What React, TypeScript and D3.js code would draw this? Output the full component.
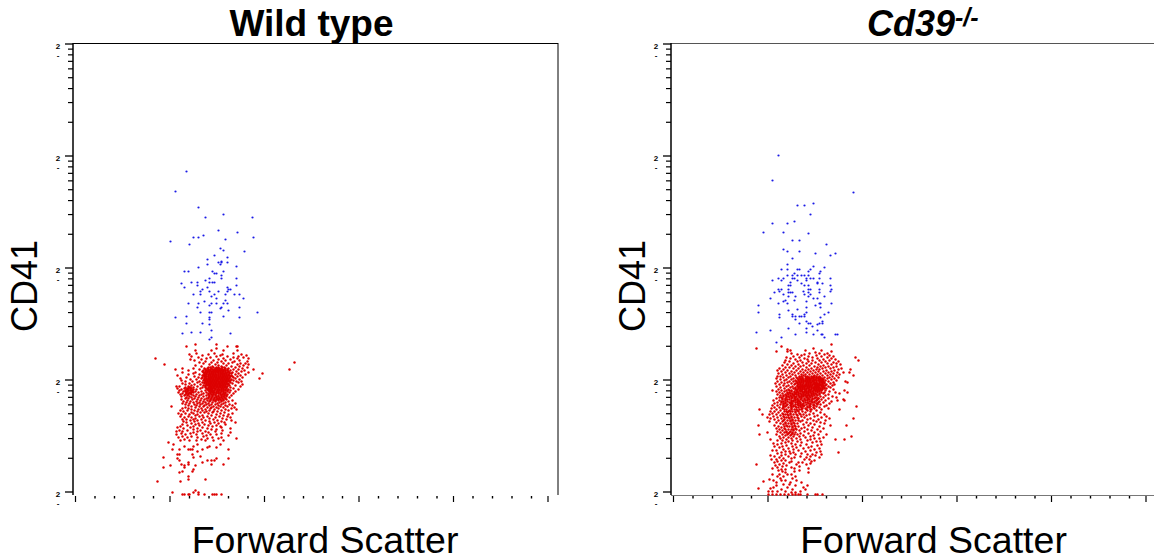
import * as d3 from "d3";

// x = forward scatter channel, y = CD41 channel, rows are [y, ...x]
const wtBlue = [
  [111,323],[100,303],[123,287],[148,280],[130,277],[177,277],[143,264],[162,262],[128,259],[118,257],[123,257],[150,255],[178,257],[95,253],[114,250],
  [145,246],[148,244],[169,243],[139,239],[152,237],[132,235],[146,233],[146,232],[143,232],[152,232],[132,230],[145,230],[161,228],[123,227],[109,223],[113,223],
  [137,223],[148,223],[139,221],[141,221],[146,219],[134,216],[146,216],[161,216],[130,214],[116,212],[122,212],[134,212],[137,212],[139,212],[106,211],[122,209],
  [161,209],[109,207],[132,207],[152,207],[127,205],[153,205],[155,205],[125,203],[134,203],[143,203],[152,203],[118,200],[125,200],[139,200],[150,200],[159,200],
  [164,200],[136,198],[141,196],[168,196],[150,194],[129,193],[113,191],[123,191],[136,191],[141,191],[148,191],[152,191],[134,189],[122,187],[146,187],[164,187],
  [145,186],[153,184],[125,182],[134,182],[136,182],[182,182],[111,178],[148,178],[100,177],[134,177],[164,177],[134,175],[111,171],[127,171],[134,170],[136,164],
  [116,162],[125,162],[107,161],[155,161],[136,157],[134,155],
];

const koBlue = [
  [105,339],[99,314],[180,302],[124,289],[131,289],[140,291],[137,280],[99,271],[114,271],[121,273],[90,262],[110,262],[135,261],[119,254],[126,254],[153,250],
  [110,245],[114,243],[126,243],[142,241],[162,241],[157,239],[119,236],[114,230],[140,228],[151,227],[108,225],[114,225],[124,225],[126,225],[137,225],[147,223],
  [135,223],[146,221],[121,221],[114,219],[119,219],[124,219],[128,219],[131,219],[135,219],[105,216],[110,216],[119,216],[121,216],[133,216],[137,216],[140,216],
  [146,216],[157,216],[99,214],[108,214],[124,214],[133,214],[117,212],[144,212],[128,211],[135,209],[149,211],[144,211],[115,209],[117,209],[131,209],[157,209],
  [115,205],[135,205],[137,205],[146,205],[158,205],[105,205],[108,205],[106,203],[130,203],[157,203],[101,202],[115,202],[117,202],[119,202],[135,202],[146,202],
  [110,200],[131,200],[137,200],[115,198],[122,198],[135,198],[151,198],[97,196],[121,194],[140,196],[144,196],[112,194],[133,193],[105,191],[110,193],[114,191],
  [146,191],[147,191],[158,191],[85,189],[133,187],[142,189],[147,187],[124,185],[115,184],[85,182],[133,182],[131,180],[155,182],[151,180],[106,180],[119,180],
  [119,178],[106,177],[122,178],[126,178],[128,178],[131,178],[147,177],[122,175],[133,173],[149,173],[149,171],[126,171],[135,171],[137,171],[146,171],[144,170],
  [139,168],[133,166],[115,166],[97,164],[144,164],[83,162],[133,162],[122,160],[140,160],[148,160],[149,160],[162,160],[164,160],[108,157],[151,157],[103,152],
];

const wtRedLoose = [
  [111,148],[120,150],[120,144],[141,150],[141,146],[152,148],[161,148],[162,148],[136,144],[148,144],[162,144],[80,136],[89,130],[219,132],[214,125],[187,121],
  [184,116],[178,125],[93,52],[98,50],[97,45],[104,45],[109,48],[113,45],[115,45],[117,45],[118,48],[122,50],[127,45],[132,47],[141,47],[153,45],[122,43],[134,48],
  [145,50],[102,40],[104,40],[117,40],[125,38],[88,37],[118,37],[132,34],[136,34],[141,36],[139,34],[153,36],[102,36],[104,34],[113,32],[127,32],[136,30],[148,30],
  [106,30],[109,29],[109,27],[95,29],[88,27],[120,29],[113,30],[118,25],[117,23],[107,23],[104,22],[113,18],[113,15],[130,15],[82,13],[105,13],[97,2],[120,4],
  [107,0],[109,0],[113,0],[114,0],[118,2],[123,2],[123,0],[129,0],[137,0],[139,0],[141,0],[146,0],
];

const wtRedRows = [
  [141,121,139,158],[140,114,133,147,166],[139,127,145,171],[138,116,141,152,163],[137,123,135,158,168],[136,131,148,162,173],
  [135,115,126,143,155],[134,119,138,150,164],[133,130,146,159,172],[132,124,136,142,157],[131,128,148,153,165,170],[130,134,140,162,173],
  [129,120,143,151,168],[128,126,137,146,156,164],[127,133,141,149,160,172],[126,107,118,129,144,153,167],[125,100,124,135,139,147,158,163],
  [124,113,131,142,150,155,169],[123,127,134,137,145,148,161,166],[122,107,120,132,140,143,152,157,173],[121,118,129,136,146,149,154,163],
  [120,113,124,133,138,141,147,151,160,170],[119,102,127,130,135,143,145,153,156,165],[118,119,131,137,139,148,150,155,162],
  [117,111,123,133,136,141,144,152,158,167],[116,105,126,129,134,138,146,149,154,160],[115,115,121,131,135,140,143,147,151,156,164],
  [114,106,128,132,137,142,145,150,153,158],[113,110,117,124,130,134,139,144,148,152,161,166],[112,122,127,133,136,141,146,149,155,163],
  [111,107,114,129,131,138,143,147,151,157],[110,110,119,125,134,137,140,145,150,153,167],[109,116,128,132,135,139,142,148,154,160],
  [108,101,104,113,122,130,136,141,144,147,152,165],[107,110,114,118,127,133,138,143,149,155],[106,102,109,112,116,125,131,135,140,146,151,158],
  [105,106,111,115,121,134,137,142,148,153,163],[104,104,110,113,117,130,133,139,144,150,155],[103,108,112,116,120,126,136,141,146,152,160],
  [102,103,111,114,118,123,131,135,143,148,154],[101,107,113,115,128,133,138,145,150,158],[100,105,110,116,121,126,136,140,147,152],
  [99,109,112,118,124,131,134,143,149,156],[98,106,114,120,128,137,141,146,151],[97,111,116,123,133,139,144,149,154],
  [96,110,113,119,126,131,136,142,147],[95,106,117,122,129,135,141,145,151],[94,112,125,132,138,143,148,157],[93,108,115,121,128,134,140,146,153],
  [92,111,118,124,130,137,144,150],[91,107,114,122,127,133,142,148,160],[90,110,119,125,131,136,140,146,154],[89,113,121,129,134,143,150,157],
  [88,96,116,124,128,138,145,152],[87,110,120,132,136,141,148,159],[86,107,113,126,135,143,156],[85,116,123,130,139,150,161],
  [84,105,112,119,127,134,146,153],[83,108,122,131,138,142],[82,116,125,129,137,149],[81,103,110,118,133,145,157],[80,106,114,122,141,153],
  [79,120,127,136,148],[78,105,113,124,132,144,152],[77,109,116,128,140,155],[76,120,134,147],[75,107,111,118,126,138,151],[74,115,122,130,142,156],
  [73,108,119,134,146],[72,111,127,139,149,160],[71,116,123,135,143],[70,107,120,129,150],[69,112,124,133,141],[68,105,118,137,145],
  [67,102,115,127,146],[66,108,122,132,155],[65,118,136,141],[64,104,112,125,147],[63,101,107,122,130,140],[62,118,133,155],[61,106,115,127,146],
  [60,101,110,121,135,141],[59,131,153],[58,107,116,128],[57,103,112,122,137,146],[56,132,143,161],[55,109,126],[54,105,114,121,130,138,148],
];

// the solid part of the wild type cloud
const wtRedCore = [
  [127,135,138,143,147],[126,132,136,140,142,146,150],[125,130,133,137,141,143,145,149,152],[124,128,133,135,138,140,144,146,148,152],
  [123,130,132,136,139,141,143,147,150,153],[122,128,130,134,136,138,142,145,147,150,154],[121,131,134,138,140,143,145,148,151,156],
  [120,129,131,135,137,140,143,145,149,153],[119,128,133,137,139,141,147,149,151,154],[118,129,133,135,141,143,145,147,152,157],
  [117,127,130,135,138,140,143,146,148,150,154],[116,131,133,136,140,142,144,147,151,152],[115,129,133,137,138,142,145,149,153],
  [114,130,134,135,139,141,147,148,151,155],[113,132,136,137,141,143,146,150,154],[112,129,131,135,138,140,143,144,147,151],
  [111,133,135,136,140,141,145,149,153],[110,131,133,135,139,142,144,147,148,152],[109,130,134,137,140,144,146,150],[108,134,138,139,142,145,149,150],
  [107,115,130,135,136,141,145,147,151],[106,113,133,137,139,143,148],[105,112,118,132,136,140,144,146,150],[104,115,135,137,142,146,148,152],
  [103,110,117,134,138,143,148],[102,116,137,139,141,145,150],[101,111,135,141,143,148],[100,113,133,138,145,149],
  [99,137,140,146,151],[98,134,143,148],[97,136,141,146],[96,133,139,144,150],[95,138,143,148],[94,135,140,146],
];

const koRedLoose = [
  [83,146],[108,148],[103,143],[114,143],[114,145],[117,144],[132,144],[140,146],[158,150],[148,144],[142,142],[154,141],[158,143],[182,137],[185,134],[183,88],
  [180,76],[173,69],[178,58],[171,55],[162,55],[165,42],[86,85],[89,80],[85,69],[86,60],[94,62],[97,55],[83,30],[180,119],[176,122],[174,112],[174,102],[171,104],
  [171,94],[166,85],[90,13],[96,15],[85,6],[97,6],[95,3],
];

const koRedRows = [
  [141,118,136,146],[140,124,131,151],[139,128,143,156],[138,120,135,148,160],[137,113,126,139,154],[136,117,131,144,158],[135,122,134,150,162],
  [134,112,127,139,146,156],[133,116,124,135,152,165],[132,111,129,142,148,160],[131,120,133,138,154,163],[130,114,125,145,158,167],[129,109,118,130,136,150],
  [128,122,127,141,147,155,163],[127,112,116,133,144,152,160],[126,106,120,125,138,149,157,168],[125,110,129,135,143,146,165,177],[124,104,114,123,132,140,153,161],
  [123,108,118,127,137,145,150,158],[122,112,121,130,134,142,155,164,170],[121,105,116,125,139,147,152,160],[120,109,119,128,132,136,144,157,166],
  [119,113,122,130,141,149,154,163],[118,104,107,117,126,134,138,146,159],[117,110,115,123,129,136,143,151,156,165],[116,103,120,127,132,140,147,154,161],
  [115,107,113,118,125,130,137,145,150,158],[114,111,122,128,134,139,143,152,163],[113,104,116,120,126,132,136,148,155,172],[112,108,114,124,130,138,141,146,151,160],
  [111,102,111,118,127,133,144,149,157],[110,106,121,129,135,139,147,153,161],[109,110,115,124,131,137,142,150,159],[108,103,113,119,126,134,145,148,155],
  [107,107,117,122,129,136,140,151,157],[106,111,120,127,133,138,143,147,153],[105,105,115,124,131,141,149,160],[104,99,108,113,118,126,135,137,146,152],
  [103,103,111,121,129,133,139,144,156],[102,106,116,123,131,137,148,151,162],[101,109,114,119,127,135,142,150,166],[100,104,112,121,125,132,140,146,155],
  [99,107,117,128,134,138,144,152],[98,110,115,123,130,136,147,159],[97,106,113,119,126,133,142,150,163],[96,103,109,121,128,139,145,155],[95,112,116,124,131,136,148,170],
  [94,100,106,118,122,129,134,143,152,164],[93,110,114,120,126,138,146,158],[92,104,108,116,124,132,141,150],[91,101,112,119,127,135,144,156],[90,107,114,122,129,137,147],
  [89,99,104,110,117,125,131,140,153],[88,112,120,127,134,143,151],[87,101,106,115,123,136,146],[86,98,109,118,129,132,141,155],[85,103,113,121,126,138,148],
  [84,107,116,124,134,143],[83,97,101,111,119,129,137],[82,105,114,122,132,147],[81,99,109,117,126,140],[80,96,103,112,120,130,136,151],[79,107,115,124,133,144],
  [78,100,110,118,128,141,153],[77,94,104,113,121,131,148],[76,97,108,116,125,137,156],[75,101,111,119,134,145],[74,105,114,122,129,140,152],[73,96,109,117,127,143],
  [72,103,112,120,133,147],[71,107,115,124,137,151],[70,110,118,130,141],[69,101,113,121,135,157],[68,105,116,125,146],[67,108,119,131,139],[66,103,111,122,128,150],
  [65,106,115,118,134,144],[64,109,120,126,138],[63,104,113,117,131,147],[62,107,111,122,141],[61,115,119,127,135],[60,103,109,124,145,153],[59,112,117,130,140],
  [58,106,120,126,137],[57,110,115,132,150],[56,107,118,123,141,146],[55,113,127,137],[54,104,109,119,134],[53,115,124,143,147],[52,112,128,139],[51,100,108,118],
  [50,104,122,133,148],[49,113,127,144],[48,101,109,119,138],[47,106,123,135],[46,115,130,146],[45,110,120,141],[44,99,103,125,137],[43,112,116,132,147],[42,108,120,143],
  [41,104,117,128],[40,112,122,134,139,148],[39,97,108,142],[38,101,115,127,137],[37,106,121,133,146],[36,110,118],[35,98,103,131,136],[34,108,112,141],[33,104,118,138],
  [32,101,116,125,129],[31,110,137],[30,106,123,133],[29,102,113],[28,109,126],[27,104,118],[26,99,121,135],[25,108,112],[24,105,126],[23,109,121],[22,112,135],
  [20,99,106,114,118],[18,104,110,122],[16,107,119],[14,100,108,112,123],[12,103,117,128],[10,110,116],[9,103,122,134],[7,100,114,130],[5,108,119,132],[3,99,104,112,127],
  [2,118,122],[0,95,99,103,107,111,115,119,122,125,127,134,142,144,149],
];

const koRedCore = [
  [118,128,132,140,143],[117,126,133,135,139,141,145,147],[116,124,129,134,136,138,143,145,149],[115,127,128,133,135,140,142,146,148],
  [114,125,130,132,136,137,141,145,147,149],[113,123,128,130,134,139,140,143,146,150],[112,126,128,133,135,137,143,148,149],[111,122,124,130,135,137,140,142,146,151],
  [110,125,127,132,133,137,141,143,145,149],[109,127,129,133,135,139,144,146,148,152],[108,124,128,130,132,136,138,141,143,150],[107,125,127,131,134,138,142,144,146,149],
  [106,122,125,129,131,135,140,141,145,149,151],[105,122,127,129,133,136,138,143,145,147],[104,116,123,128,132,140,142,144,148],[103,118,124,127,131,135,137,142,146],
  [102,114,121,125,129,133,135,140,144],[101,117,122,125,130,133,138,140,146],[100,115,119,123,128,130,135,138,143],[99,110,113,120,125,130,132,136,141],
  [98,113,118,121,126,128,133,139],[97,108,116,122,128,134,137,143],[96,112,118,124,131,135,141,145],[95,109,114,122,127,134,139,144],[94,112,120,125,132,138,143],
  [93,108,118,124,130,136,141],[92,112,118,122,127,134,139,145],[91,110,117,125,130,137,143],[90,110,118,124,127,133,140,144],[89,113,120,127,129,136,141],
  [88,110,118,122,130,137],[87,110,118,125,128,134,140],[85,111,118,123,128,133,137],[83,113,115,117,122,125],[80,110,114,117,123,127],[77,111,115,118,124],
  [74,110,117,119,125],[71,112,118,121],[68,111,114,119,122],[65,112,120,123],[62,113,116,119],[60,114,118,121],
];

const xMajor = [0, 94.5, 189, 283.5, 378, 472.5];
const xMinorSteps = [19.5, 39, 58.5, 78];
const decades = [1, 10, 100, 1000, 10000];
const minorMults = [2, 3, 4, 5, 6, 7, 8, 9];

const rowsToPoints = (rows: number[][]) =>
  rows.flatMap(([y, ...xs]) => xs.map((x) => [x, y]));

function Panel({ left, title, blue, red, frame, xLabelX, yLabelX }: any) {
  const x = d3.scaleLinear().domain([0, 483]).range([left + 2.5, left + 485.5]);
  const y = d3.scaleLinear().domain([0, 450]).range([494.5, 44.5]);
  const yLog = d3.scaleLog().domain([1, 10000]).range([492, 44]);
  const minorY = decades.slice(0, 4).flatMap((d) => minorMults.map((m) => d * m));
  const minorX = xMajor.slice(0, 5).flatMap((m) => xMinorSteps.map((s) => m + s));
  const lineColor = frame ? "#000" : "#555";
  const axisRight = frame ? left + 485 : 1154;

  return (
    <g>
      <line x1={left} x2={axisRight} y1={43.5} y2={43.5} stroke={lineColor} strokeWidth={1.2} />
      <line x1={left} x2={left} y1={43} y2={495} stroke="#000" strokeWidth={1.5} />
      {frame ? (
        <line x1={axisRight} x2={axisRight} y1={43} y2={495} stroke="#000" strokeWidth={1} />
      ) : (
        <line x1={left} x2={axisRight} y1={495.5} y2={495.5} stroke="#777" strokeWidth={1} />
      )}
      {decades.map((d) => (
        <g key={d}>
          <line x1={left - 8} x2={left} y1={yLog(d)} y2={yLog(d)} stroke="#000" strokeWidth={1.3} />
          <text x={left - 15} y={yLog(d) + 5} fontSize={8} fontWeight="bold" textAnchor="middle">2</text>
          <text x={left - 15} y={yLog(d) + 14} fontSize={8} fontWeight="bold" textAnchor="middle">-</text>
        </g>
      ))}
      {minorY.map((d) => (
        <line key={d} x1={left - 5} x2={left} y1={yLog(d)} y2={yLog(d)} stroke="#000" strokeWidth={1.2} />
      ))}
      {xMajor.map((t) => (
        <line key={t} x1={x(t)} x2={x(t)} y1={496} y2={502} stroke="#000" strokeWidth={1.2} />
      ))}
      {minorX.map((t) => (
        <line key={t} x1={x(t)} x2={x(t)} y1={496} y2={498.5} stroke="#000" strokeWidth={1.4} />
      ))}
      {blue.map(([a, b]: number[], i: number) => (
        <circle key={"b" + i} cx={x(a)} cy={y(b)} r={1.1} fill="#1a1ae6" />
      ))}
      {red.map(([a, b]: number[], i: number) => (
        <circle key={"r" + i} cx={x(a)} cy={y(b)} r={1.2} fill="#dd0000" />
      ))}
      <text x={xLabelX} y={553} fontSize={37.5} textAnchor="middle">Forward Scatter</text>
      <text transform={`translate(${yLabelX},286) rotate(-90)`} fontSize={36} textAnchor="middle">CD41</text>
      {title}
    </g>
  );
}

export default function App() {
  return (
    <svg
      width={1154}
      height={560}
      style={{ position: "absolute", left: 0, top: 0, background: "#fff" }}
      fontFamily="'Liberation Sans', Arial, sans-serif"
    >
      <Panel
        left={73}
        frame
        xLabelX={325}
        yLabelX={37}
        blue={wtBlue}
        red={[...wtRedLoose, ...rowsToPoints(wtRedRows), ...rowsToPoints(wtRedCore)]}
        title={<text x={311.5} y={36} fontSize={37} fontWeight="bold" textAnchor="middle">Wild type</text>}
      />
      <Panel
        left={671}
        frame={false}
        xLabelX={933.5}
        yLabelX={645}
        blue={koBlue}
        red={[...koRedLoose, ...rowsToPoints(koRedRows), ...rowsToPoints(koRedCore)]}
        title={
          <text x={867} y={36} fontSize={36} fontWeight="bold" fontStyle="italic">
            Cd39<tspan fontSize={25} dy={-10}>-/-</tspan>
          </text>
        }
      />
    </svg>
  );
}
